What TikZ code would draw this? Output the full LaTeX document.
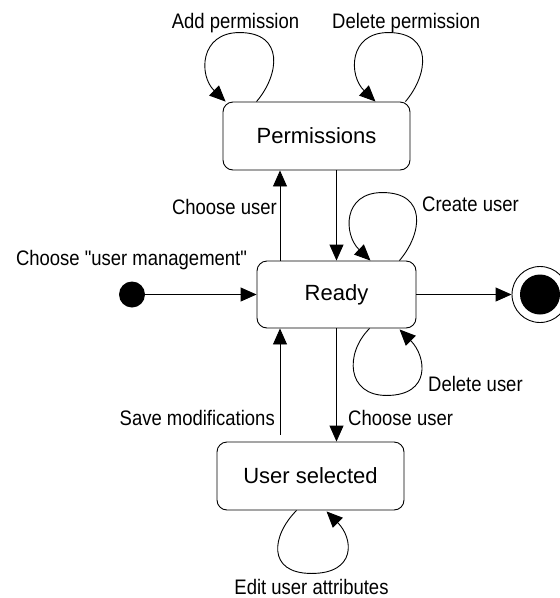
\documentclass[tikz,border=0pt]{standalone}
\usepackage{fontspec}
\setmainfont{Liberation Sans}
\newfontfamily\lblfont[FakeStretch=0.88]{Liberation Sans}
\usetikzlibrary{arrows.meta,calc}

\begin{document}
\begin{tikzpicture}[x=1pt,y=-1pt,
  state/.style={draw,rounded corners=10pt,line width=0.9pt,minimum width=187pt,
    minimum height=68pt,inner sep=0pt,font=\fontsize{22}{26}\selectfont},
  lbl/.style={inner sep=0pt,font=\lblfont\fontsize{21}{25}\selectfont},
  arr/.style={line width=0.9pt,-{Triangle[length=16pt,width=14pt]}},
]
\useasboundingbox (0,0) rectangle (560,598);
\clip (0,0) rectangle (560,598);

% states
\node[state] (perm) at (316.5,136) {Permissions};
\node[state,minimum width=159pt,minimum height=67pt] (ready) at (336.5,294.5) {Ready};
\node[state] (user) at (310.5,476) {User selected};

% pseudo states
\node[circle,fill,inner sep=0pt,minimum size=26pt] (init) at (132,294.5) {};
\node[circle,draw,line width=0.9pt,inner sep=0pt,minimum size=56pt] (final) at (540,294.5) {};
\node[circle,fill,inner sep=0pt,minimum size=40pt] (finalcore) at (final) {};

% columns of the vertical transitions
\coordinate (lx) at (280,0);
\coordinate (rx) at (336.5,0);

% transitions
\draw[arr] (ready.north -| lx) -- (perm.south -| lx);
\draw[arr] (perm.south -| rx) -- (ready.north -| rx);
\draw[arr,shorten <=7pt] (user.north -| lx) -- (ready.south -| lx);
\draw[arr] (ready.south -| rx) -- (user.north -| rx);
\draw[arr] (init) -- (ready);
\draw[arr] (ready) -- (final);

% self transitions
\draw[arr] ([xshift=34pt]perm.north west)
  .. controls +(23,-27) and +(45,0) .. ++(-17,-69)
  .. controls +(-40,0) and +(-27,-26) .. ++(-14,69);
\draw[arr] ([xshift=-5pt]perm.north east)
  .. controls +(23,-27) and +(45,0) .. ++(-17,-69)
  .. controls +(-40,0) and +(-27,-26) .. ++(-13,69);
\draw[arr] ([xshift=-17pt]ready.north east)
  .. controls +(23,-27) and +(45,0) .. ++(-17,-68)
  .. controls +(-40,0) and +(-27,-26) .. ++(-12,68);
\draw[arr] ([xshift=113pt]ready.south west)
  .. controls +(-25,25) and +(-40,0) .. ++(17,67)
  .. controls +(45,0) and +(27,27) .. ++(13,-66);
\draw[arr] ([xshift=80pt]user.south west)
  .. controls +(-25,25) and +(-45,0) .. ++(15,63)
  .. controls +(45,0) and +(27,27) .. ++(15,-62);

% labels
\node[lbl,anchor=base] (lAdd) at (235.5,28) {Add permission};
\node[lbl,anchor=base west] (lDelP) at (332,28) {Delete permission};
\node[lbl,anchor=base east] (lChU1) at (277,214) {Choose user};
\node[lbl,anchor=base west] (lCre) at (422,211) {Create user};
\node[lbl,anchor=base] (lInit) at (131.5,265) {Choose "user management"};
\node[lbl,anchor=base west] (lDelU) at (428,391) {Delete user};
\node[lbl,anchor=base east] (lSave) at (275,425) {Save modifications};
\node[lbl,anchor=base west] (lChU2) at (348,425) {Choose user};
\node[lbl,anchor=base] (lEdit) at (311.5,594) {Edit user attributes};
\end{tikzpicture}
\end{document}
